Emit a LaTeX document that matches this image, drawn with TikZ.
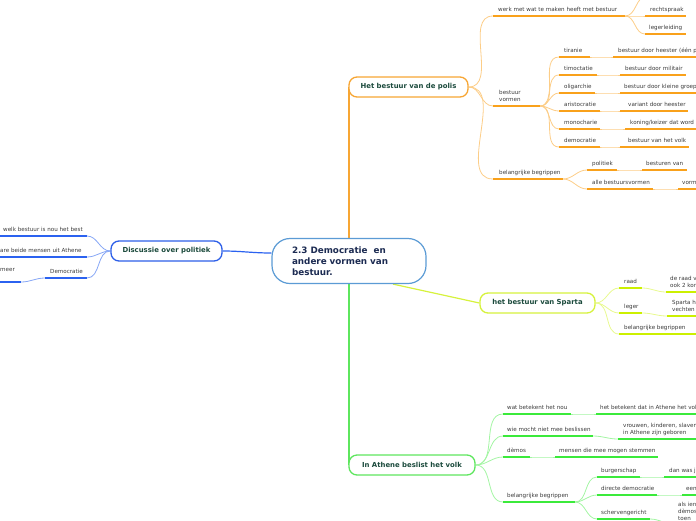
\documentclass[tikz,border=0pt]{standalone}
\usepackage{fontspec}
\setmainfont{DejaVu Sans}
\usepackage{xcolor}
\usetikzlibrary{calc, backgrounds}

% kleuren van de takken
\definecolor{oranjerand}{HTML}{F7A634}
\definecolor{oranjelijn}{HTML}{F9A11B}
\definecolor{oranjedun}{HTML}{FCCD87}
\definecolor{blauwrand}{HTML}{2D5FE8}
\definecolor{blauwlijn}{HTML}{2B62F0}
\definecolor{blauwdun}{HTML}{86A6F5}
\definecolor{centraalrand}{HTML}{5B9BD5}
\definecolor{geelrand}{HTML}{D6F23C}
\definecolor{geellijn}{HTML}{CCF000}
\definecolor{geeldun}{HTML}{E8F98F}
\definecolor{groenrand}{HTML}{5EE65E}
\definecolor{groenlijn}{HTML}{3BEA3B}
\definecolor{groendun}{HTML}{A3F5A3}
\definecolor{titelgroen}{HTML}{1B4A3C}
\definecolor{centraaltekst}{HTML}{1C2B52}
\definecolor{tekstgrijs}{HTML}{3A3A3A}

% een onderstreepte tak: naam, kleur, x-begin, x-eind, y-lijn, x-tekst, tekst
\newcommand{\takregel}[7]{%
    \coordinate (#1-l) at (#3,#5);
    \coordinate (#1-r) at (#4,#5);
    \draw[onderlijn=#2] (#1-l) -- (#1-r);
    \node[klein, anchor=base west] (#1) at (#6,#5-4.5) {#7};
}

\begin{document}
\begin{tikzpicture}[x=1pt, y=-1pt,
    klein/.style={font=\fontsize{5.6}{7}\selectfont, text=tekstgrijs, inner sep=0pt, align=left},
    onderlijn/.style={line width=1.8pt, draw=#1},
    verbind/.style={line width=0.8pt, draw=#1},
    hoofdlijn/.style={line width=1.2pt, draw=#1},
    titel/.style={draw=#1, line width=1.3pt, fill=white, rounded corners=8pt,
        minimum height=20pt, inner xsep=0pt, text=titelgroen,
        font=\fontsize{6.9}{8}\selectfont\bfseries},
    centraal/.style={draw=centraalrand, line width=1.2pt, fill=white, rounded corners=18pt,
        minimum width=154pt, minimum height=45pt, text width=114pt, inner xsep=20pt,
        align=left, text=centraaltekst, font=\fontsize{8.8}{11}\selectfont\bfseries}]

    \useasboundingbox (0,0) rectangle (696,520);
    \clip (0,0) rectangle (696,520);

    % =================================================================
    % 1. HOOFDKNOPEN
    % =================================================================
    \node[centraal] (centraal) at (349,261) {2.3 Democratie~ en\\andere vormen van\\bestuur.};
    \node[titel=oranjerand, minimum width=119pt] (polis) at (408.5,87) {Het bestuur van de polis};
    \node[titel=blauwrand, minimum width=111pt] (discussie) at (166.5,251) {Discussie over politiek};
    \node[titel=geelrand, minimum width=115pt] (sparta) at (537.5,303) {het bestuur van Sparta};
    \node[titel=groenrand, minimum width=126pt] (athene) at (412,465) {In Athene beslist het volk};

    % =================================================================
    % 2. HET BESTUUR VAN DE POLIS
    % =================================================================
    \takregel{werk}{oranjelijn}{493}{625}{16}{498}{werk met wat te maken heeft met bestuur}
    \coordinate (boven-l) at (647,-4);
    \takregel{recht}{oranjelijn}{645}{686}{16}{650}{rechtspraak}
    \takregel{leiding}{oranjelijn}{645}{686}{34}{649}{legerleiding}

    \takregel{vormen}{oranjelijn}{493}{540}{106}{499}{bestuur\\vormen}
    \takregel{tiranie}{oranjelijn}{559}{590}{57}{564}{tiranie}
    \takregel{heester}{oranjelijn}{613}{700}{57}{618}{bestuur door heester (één p}
    \takregel{timo}{oranjelijn}{559}{597}{75}{564}{timoctatie}
    \takregel{militair}{oranjelijn}{620}{686}{75}{625}{bestuur door militair}
    \takregel{oli}{oranjelijn}{559}{595}{93}{564}{oligarchie}
    \takregel{groep}{oranjelijn}{620}{700}{93}{624}{bestuur door kleine groep}
    \takregel{aristo}{oranjelijn}{559}{600}{111}{564}{aristocratie}
    \takregel{variant}{oranjelijn}{620}{688}{111}{628}{variant door heester}
    \takregel{mono}{oranjelijn}{559}{600}{129}{564}{monocharie}
    \takregel{koning}{oranjelijn}{625}{700}{129}{630}{koning/keizer dat word e}
    \takregel{demo}{oranjelijn}{559}{600}{147}{564}{democratie}
    \takregel{volk}{oranjelijn}{620}{689}{147}{628}{bestuur van het volk}

    \takregel{begr1}{oranjelijn}{493}{563}{179}{499}{belangrijke begrippen}
    \takregel{politiek}{oranjelijn}{587}{617}{170}{592}{politiek}
    \takregel{besturen}{oranjelijn}{642}{687}{170}{646}{besturen van}
    \takregel{alle}{oranjelijn}{587}{653}{189}{592}{alle bestuursvormen}
    \takregel{vorm}{oranjelijn}{678}{700}{189}{682}{vorm}

    % =================================================================
    % 3. DISCUSSIE OVER POLITIEK (naar links)
    % =================================================================
    \takregel{welk}{blauwlijn}{-5}{87}{236}{3}{welk bestuur is nou het best}
    \takregel{athener}{blauwlijn}{-5}{87}{257}{0}{are beide mensen uit Athene}
    \takregel{democr}{blauwlijn}{45}{87}{278}{50}{Democratie}
    \coordinate (meer-l) at (-5,282);
    \coordinate (meer-r) at (21,282);
    \draw[onderlijn=blauwlijn] (meer-l) -- (meer-r);
    \node[klein, anchor=base west] (meer) at (0,271) {meer};

    % =================================================================
    % 4. HET BESTUUR VAN SPARTA
    % =================================================================
    \takregel{raad}{geellijn}{619}{642}{288}{624}{raad}
    \takregel{raadk}{geellijn}{666}{700}{292}{670}{de raad v\\ook 2 kon}
    \takregel{leger}{geellijn}{619}{642}{313}{624}{leger}
    \takregel{legerk}{geellijn}{667}{700}{316}{672}{Sparta h\\vechten}
    \takregel{begr2}{geellijn}{619}{700}{334}{624}{belangrijke begrippen}

    % =================================================================
    % 5. IN ATHENE BESLIST HET VOLK
    % =================================================================
    \takregel{nou}{groenlijn}{503}{571}{414}{507}{wat betekent het nou}
    \takregel{nouk}{groenlijn}{596}{700}{414}{600}{het betekent dat in Athene het vol}
    \takregel{wie}{groenlijn}{503}{593}{436}{507}{wie mocht niet mee beslissen}
    \takregel{wiek}{groenlijn}{618}{700}{439}{623}{vrouwen, kinderen, slaven\\in Athene zijn geboren}
    \takregel{demos}{groenlijn}{503}{530}{457}{507}{dèmos}
    \takregel{demosk}{groenlijn}{555}{658}{457}{559}{mensen die mee mogen stemmen}
    \takregel{begr3}{groenlijn}{503}{575}{502}{507}{belangrijke begrippen}
    \takregel{burger}{groenlijn}{597}{640}{477}{601}{burgerschap}
    \takregel{burgerk}{groenlijn}{664}{700}{477}{669}{dan was j}
    \takregel{direct}{groenlijn}{597}{657}{495}{601}{directe democratie}
    \takregel{directk}{groenlijn}{682}{700}{495}{686}{een}
    \takregel{scherven}{groenlijn}{597}{650}{519}{601}{schervengericht}
    \takregel{scherk}{groenlijn}{676}{700}{525}{678}{als ien\\dèmos\\toen}

    % =================================================================
    % 6. VERBINDINGEN (achter de knopen)
    % =================================================================
    \begin{scope}[on background layer]
        % hoofdtakken vanuit het midden
        \draw[hoofdlijn=oranjerand] (centraal.north) -- (centraal.north |- polis.west);
        \draw[hoofdlijn=blauwlijn] (discussie.east) to[out=0, in=180] ($(centraal.west)+(0,-8)$);
        \draw[hoofdlijn=geelrand] ($(centraal.south)+(44,0)$) -- (sparta.west);
        \draw[hoofdlijn=groenrand] (centraal.south) -- (centraal.south |- athene.west);

        % polis
        \foreach \kind in {werk, vormen, begr1}
            \draw[verbind=oranjedun] (polis.east) to[out=0, in=180] (\kind-l);
        \foreach \kind in {boven, recht, leiding}
            \draw[verbind=oranjedun] (werk-r) to[out=0, in=180] (\kind-l);
        \foreach \kind in {tiranie, timo, oli, aristo, mono, demo}
            \draw[verbind=oranjedun] (vormen-r) to[out=0, in=180] (\kind-l);
        \foreach \kind in {politiek, alle}
            \draw[verbind=oranjedun] (begr1-r) to[out=0, in=180] (\kind-l);
        \foreach \ouder/\kind in {tiranie/heester, timo/militair, oli/groep, aristo/variant,
                mono/koning, demo/volk, politiek/besturen, alle/vorm}
            \draw[verbind=oranjedun] (\ouder-r) to[out=0, in=180] (\kind-l);

        % discussie
        \foreach \kind in {welk, athener, democr}
            \draw[verbind=blauwdun] (discussie.west) to[out=180, in=0] (\kind-r);
        \draw[verbind=blauwdun] (democr-l) to[out=180, in=0] (meer-r);

        % sparta
        \foreach \kind in {raad, leger, begr2}
            \draw[verbind=geeldun] (sparta.east) to[out=0, in=180] (\kind-l);
        \foreach \ouder/\kind in {raad/raadk, leger/legerk}
            \draw[verbind=geeldun] (\ouder-r) to[out=0, in=180] (\kind-l);

        % athene
        \foreach \kind in {nou, wie, demos, begr3}
            \draw[verbind=groendun] (athene.east) to[out=0, in=180] (\kind-l);
        \foreach \kind in {burger, direct, scherven}
            \draw[verbind=groendun] (begr3-r) to[out=0, in=180] (\kind-l);
        \foreach \ouder/\kind in {nou/nouk, wie/wiek, demos/demosk, burger/burgerk,
                direct/directk, scherven/scherk}
            \draw[verbind=groendun] (\ouder-r) to[out=0, in=180] (\kind-l);
    \end{scope}

\end{tikzpicture}
\end{document}
